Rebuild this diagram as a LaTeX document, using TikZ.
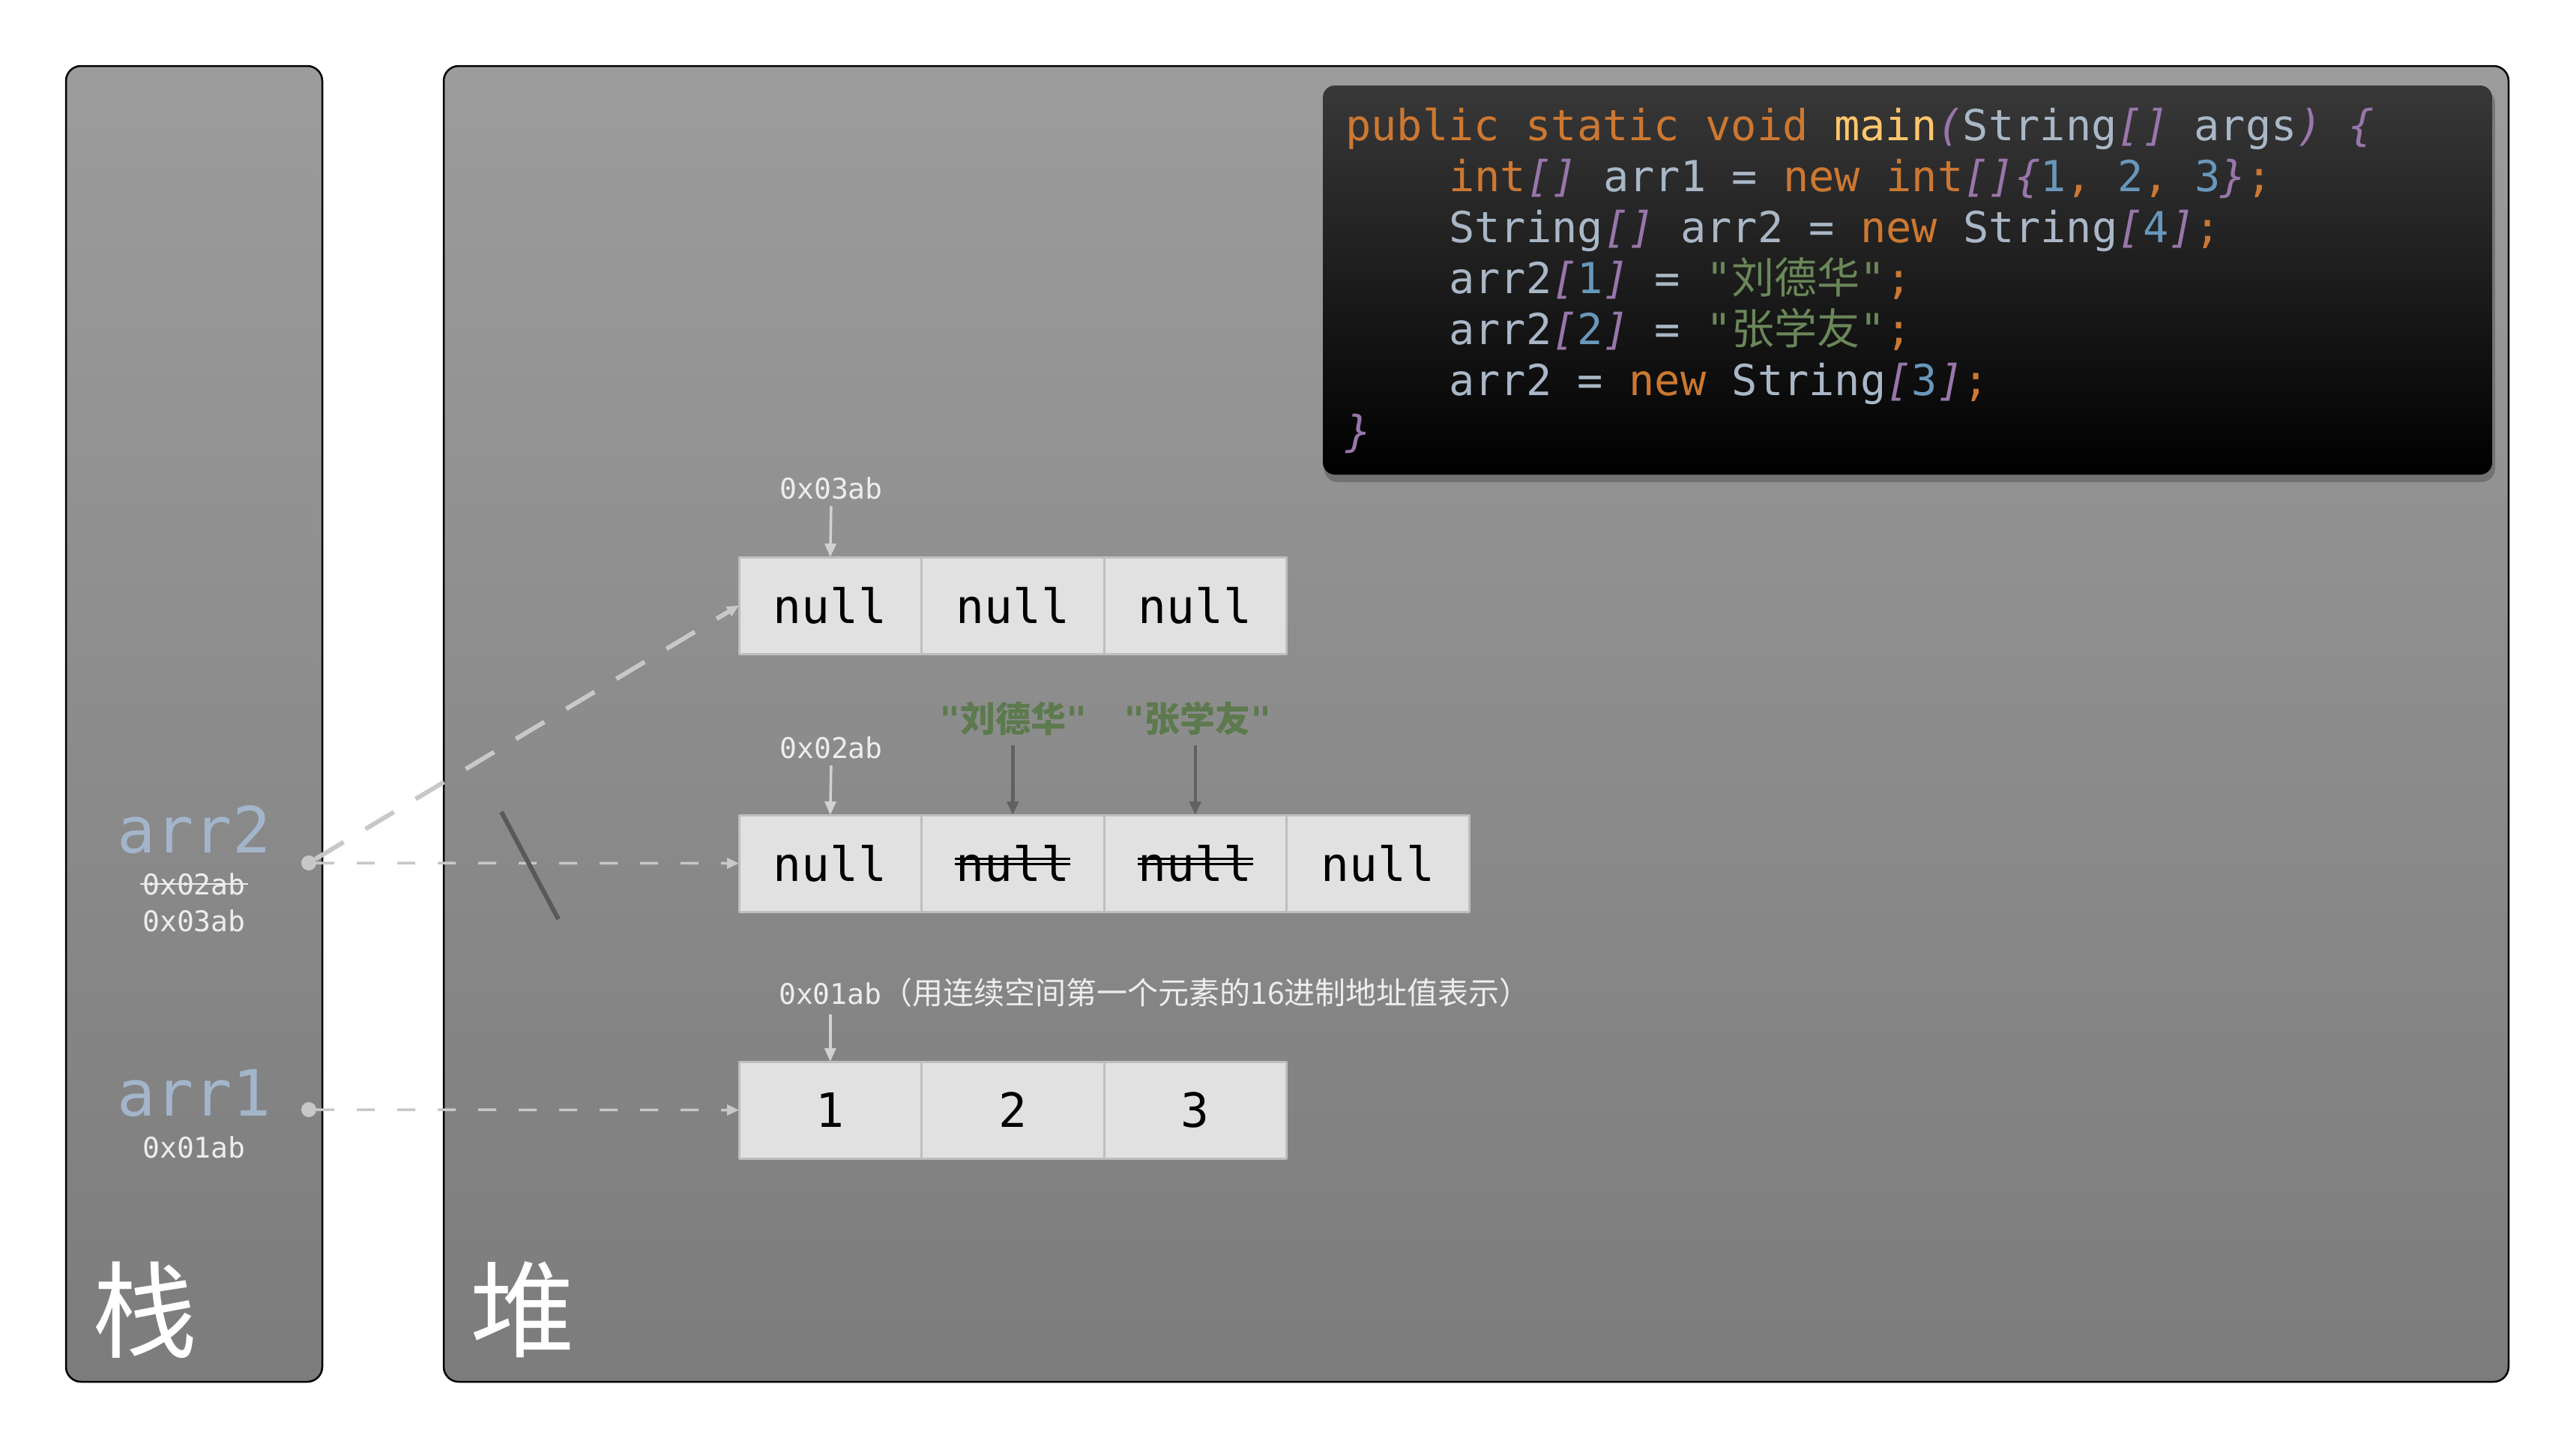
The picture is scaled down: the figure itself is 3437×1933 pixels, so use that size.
\documentclass[tikz,border=0pt]{standalone}
\usepackage{fontspec}
\setmonofont{DejaVu Sans Mono}
\newfontfamily\cjk{Noto Sans CJK SC}
\usetikzlibrary{positioning,arrows.meta,shadows}

\definecolor{panelTop}{HTML}{9C9C9C}
\definecolor{panelBot}{HTML}{7C7C7C}
\definecolor{cellFill}{HTML}{E1E1E1}
\definecolor{cellLine}{HTML}{BEBEBE}
\definecolor{ptrGray}{HTML}{C8C8C8}
\definecolor{varBlue}{HTML}{A3B5CB}
\definecolor{strGreen}{HTML}{5C7A4D}
\definecolor{kwOrange}{HTML}{CC7832}
\definecolor{fnYellow}{HTML}{FFC66D}
\definecolor{idGray}{HTML}{A9B7C6}
\definecolor{brPurple}{HTML}{9876AA}
\definecolor{numBlue}{HTML}{6897BB}
\definecolor{codeGreen}{HTML}{6A8759}

% code colouring
\newcommand{\cKw}[1]{\textcolor{kwOrange}{#1}}
\newcommand{\cFn}[1]{\textcolor{fnYellow}{#1}}
\newcommand{\cId}[1]{\textcolor{idGray}{#1}}
\newcommand{\cBr}[1]{\textcolor{brPurple}{\itshape #1}}
\newcommand{\cNum}[1]{\textcolor{numBlue}{#1}}
\newcommand{\cStr}[1]{\textcolor{codeGreen}{"{\cjk #1}"}}

\tikzset{
  panel/.style={draw=black, line width=2.5pt, rounded corners=20pt, top color=panelTop, bottom color=panelBot},
  cell/.style={draw=cellLine, line width=3pt, fill=cellFill, minimum width=243.5pt, minimum height=129pt,
    inner sep=0pt, outer sep=0pt, font=\ttfamily\fontsize{63}{70}\selectfont},
  addr/.style={text=white!93!black, inner sep=3pt, font=\ttfamily\fontsize{38}{44}\selectfont},
  var/.style={text=varBlue, inner sep=0pt, font=\ttfamily\fontsize{85}{90}\selectfont},
  title/.style={text=white, inner sep=0pt, font=\cjk\fontsize{140}{150}\selectfont},
  strlbl/.style={text=strGreen, inner sep=3pt, font=\ttfamily\bfseries\fontsize{47}{54}\selectfont},
  dot/.style={circle, fill=ptrGray, minimum size=20pt, inner sep=0pt},
  ptr/.style={draw=ptrGray, line width=3.5pt, dash pattern=on 24pt off 30pt, -{Triangle[length=16pt,width=14pt]}},
  ptrlong/.style={ptr, line width=6pt, dash pattern=on 44pt off 34pt},
  addrarrow/.style={draw=white!82!black, line width=3.5pt, -{Triangle[length=18pt,width=15pt]}, shorten <=6pt},
  strarrow/.style={draw=black!62, line width=4.5pt, -{Triangle[length=18pt,width=15pt]}, shorten <=10pt},
  code/.style={anchor=base west, inner sep=0pt, font=\ttfamily\fontsize{57}{68}\selectfont}
}

\begin{document}
\begin{tikzpicture}[x=1pt, y=-1pt, line cap=butt, line join=round]

  %% panels
  \shade[panel] (88,88) rectangle (430,1843);
  \shade[panel] (592,88) rectangle (3347,1843);

  %% code box
  \fill[black, opacity=.22, rounded corners=18pt] (1767,120) rectangle (3329,643);
  \shade[rounded corners=16pt, top color=black!78, middle color=black, bottom color=black] (1765,114) rectangle (3325,633);
  \node[code] (l1) at (1795,187) {\cKw{public static void} \cFn{main}\cBr{(}\cId{String}\cBr{[]} \cId{args}\cBr{)} \cBr{\{}};
  \node[code] (l2) at (1933,255) {\cKw{int}\cBr{[]} \cId{arr1 =} \cKw{new int}\cBr{[]\{}\cNum{1}\cKw{,} \cNum{2}\cKw{,} \cNum{3}\cBr{\}}\cKw{;}};
  \node[code] (l3) at (1933,323) {\cId{String}\cBr{[]} \cId{arr2 =} \cKw{new} \cId{String}\cBr{[}\cNum{4}\cBr{]}\cKw{;}};
  \node[code] (l4) at (1933,391) {\cId{arr2}\cBr{[}\cNum{1}\cBr{]} \cId{=} \cStr{刘德华}\cKw{;}};
  \node[code] (l5) at (1933,459) {\cId{arr2}\cBr{[}\cNum{2}\cBr{]} \cId{=} \cStr{张学友}\cKw{;}};
  \node[code] (l6) at (1933,527) {\cId{arr2 =} \cKw{new} \cId{String}\cBr{[}\cNum{3}\cBr{]}\cKw{;}};
  \node[code] (l7) at (1795,595) {\cBr{\}}};

  %% arrays in the heap
  \node[cell, anchor=north west] (a1) at (986,743) {null};
  \node[cell, right=0pt of a1] (a2) {null};
  \node[cell, right=0pt of a2] (a3) {null};

  \node[cell, anchor=north west] (b1) at (986,1087) {null};
  \node[cell, right=0pt of b1] (b2) {null};
  \node[cell, right=0pt of b2] (b3) {null};
  \node[cell, right=0pt of b3] (b4) {null};

  \node[cell, anchor=north west] (c1) at (986,1416) {1};
  \node[cell, right=0pt of c1] (c2) {2};
  \node[cell, right=0pt of c2] (c3) {3};

  % crossed out nulls
  \foreach \n in {b2,b3} {
    \draw[line width=3pt] ([xshift=-77pt,yshift=-1pt]\n.center) -- ([xshift=77pt,yshift=-1pt]\n.center);
    \draw[line width=3pt] ([xshift=-77pt,yshift=6pt]\n.center) -- ([xshift=77pt,yshift=6pt]\n.center);
  }

  %% addresses
  \node[addr] (ad3) at (1109,651) {0x03ab};
  \node[addr] (ad2) at (1109,997) {0x02ab};
  \node[addr, anchor=west] (ad1) at (1036,1324) {0x01ab{\cjk\fontsize{41}{46}\selectfont （用连续空间第一个元素的16进制地址值表示）}};
  \draw[addrarrow] (ad3.south) -- (a1.north);
  \draw[addrarrow] (ad2.south) -- (b1.north);
  \draw[addrarrow] (c1.north |- ad1.south) -- (c1.north);

  \node[strlbl] (s1) at (1352,958) {"{\cjk\bfseries 刘德华}"};
  \node[strlbl] (s2) at (1598,958) {"{\cjk\bfseries 张学友}"};
  \draw[strarrow] (s1.south -| b2.north) -- (b2.north);
  \draw[strarrow] (s2.south -| b3.north) -- (b3.north);

  %% stack variables
  \node[var] (v2) at (259,1107) {arr2};
  \node[addr] (v2old) at (259,1179) {0x02ab};
  \draw[line width=2.5pt, white!93!black] (v2old.west) -- (v2old.east);
  \node[addr] (v2new) at (259,1228) {0x03ab};
  \node[var] (v1) at (259,1458) {arr1};
  \node[addr] (v1ad) at (259,1530) {0x01ab};

  \node[dot] (p2) at (412,1151) {};
  \node[dot] (p1) at (412,1480) {};
  \draw[ptr] (p2) -- (b1.west);
  \draw[ptrlong] (p2) -- (a1.west);
  \draw[ptr] (p1) -- (c1.west);

  % old reference cut
  \draw[line width=6pt, black!65] (669,1083) -- (745,1226);

  %% titles
  \node[title] (stk) at (193,1747) {栈};
  \node[title] (hp) at (697,1747) {堆};

  \pgfresetboundingbox
  \path[use as bounding box] (0,0) rectangle (3437,1933);
\end{tikzpicture}
\end{document}
